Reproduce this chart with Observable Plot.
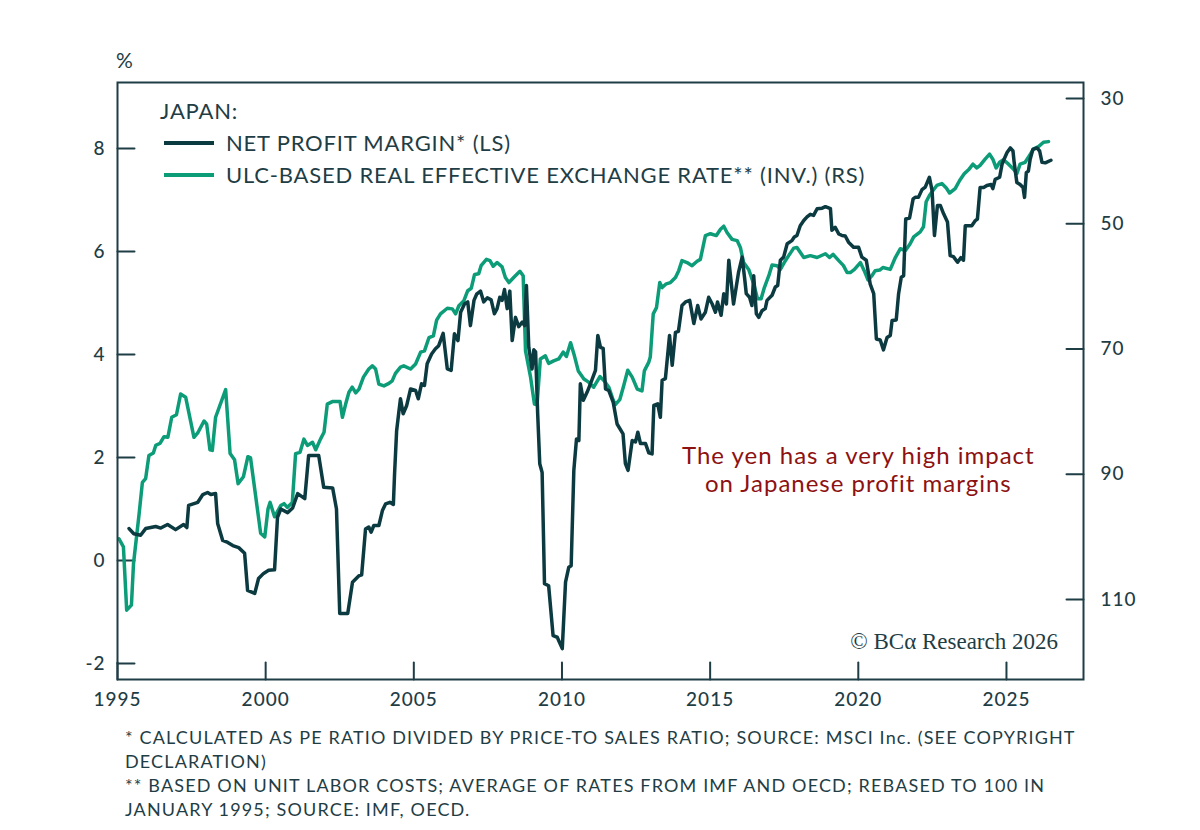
<!DOCTYPE html>
<html>
<head>
<meta charset="utf-8">
<script src="https://cdn.jsdelivr.net/npm/d3@7"></script>
<script src="https://cdn.jsdelivr.net/npm/@observablehq/plot@0.6"></script>
<style>
  html, body { margin: 0; padding: 0; background: #ffffff; }
  #wrap { position: relative; width: 1200px; height: 830px; font-family: Lato, "Open Sans", sans-serif; color: #1f3d45; }
  #pct { position: absolute; left: 116px; top: 47px; font-size: 21px; }
  #legend { position: absolute; left: 160px; top: 95px; font-size: 22px; line-height: 32px; letter-spacing: 0.8px; }
  #legend .row { display: flex; align-items: center; }
  #legend .sw { display: inline-block; width: 50px; height: 4px; margin: 0 12px 0 4px; }
  #copy { position: absolute; right: 142px; top: 629px; font-family: "Liberation Serif", "DejaVu Serif", serif; font-size: 23px; color: #1f3d45; }
  #notes { position: absolute; left: 125px; top: 725px; font-size: 18px; line-height: 24px; letter-spacing: 1.15px; }
</style>
</head>
<body>
<div id="wrap">
  <div id="chart"></div>
  <div id="pct">%</div>
  <div id="legend"></div>
  <div id="copy"></div>
  <div id="notes"></div>
</div>
<script>
// ---- data ----
const marginYears = [1995.39,1995.55,1995.78,1995.95,1996.12,1996.29,1996.46,1996.69,1996.96,1997.23,1997.34,1997.40,1997.71,1997.88,1998.04,1998.15,1998.31,1998.38,1998.55,1998.72,1998.89,1999.09,1999.29,1999.39,1999.63,1999.76,1999.93,2000.10,2000.30,2000.40,2000.51,2000.74,2000.91,2001.08,2001.32,2001.45,2001.79,2001.96,2002.26,2002.39,2002.50,2002.77,2002.93,2003.14,2003.24,2003.37,2003.48,2003.56,2003.65,2003.82,2003.94,2004.05,2004.19,2004.31,2004.35,2004.42,2004.50,2004.55,2004.64,2004.76,2004.89,2005.06,2005.15,2005.26,2005.36,2005.45,2005.60,2005.73,2005.84,2005.99,2006.13,2006.26,2006.37,2006.49,2006.58,2006.71,2006.82,2006.91,2007.03,2007.12,2007.25,2007.36,2007.48,2007.61,2007.72,2007.81,2007.90,2007.98,2008.06,2008.15,2008.24,2008.32,2008.43,2008.54,2008.66,2008.74,2008.80,2008.88,2008.99,2009.05,2009.11,2009.18,2009.25,2009.33,2009.41,2009.55,2009.70,2009.84,2010.01,2010.12,2010.23,2010.31,2010.40,2010.49,2010.57,2010.62,2010.72,2010.85,2010.96,2011.13,2011.21,2011.30,2011.39,2011.47,2011.58,2011.73,2011.86,2012.06,2012.14,2012.23,2012.37,2012.48,2012.56,2012.65,2012.82,2012.93,2013.04,2013.10,2013.23,2013.32,2013.38,2013.49,2013.63,2013.72,2013.83,2013.93,2014.05,2014.17,2014.31,2014.45,2014.58,2014.69,2014.84,2014.95,2015.07,2015.18,2015.25,2015.37,2015.46,2015.55,2015.63,2015.79,2015.96,2016.08,2016.16,2016.22,2016.33,2016.41,2016.47,2016.56,2016.64,2016.75,2016.86,2016.92,2017.09,2017.20,2017.28,2017.37,2017.48,2017.60,2017.76,2017.84,2017.93,2018.04,2018.16,2018.27,2018.38,2018.49,2018.61,2018.78,2018.89,2019.06,2019.11,2019.22,2019.34,2019.45,2019.56,2019.67,2019.84,2020.01,2020.12,2020.27,2020.40,2020.52,2020.61,2020.74,2020.85,2020.97,2021.08,2021.14,2021.28,2021.36,2021.45,2021.53,2021.60,2021.73,2021.85,2021.92,2022.03,2022.15,2022.26,2022.40,2022.49,2022.57,2022.67,2022.77,2022.88,2023.01,2023.10,2023.21,2023.35,2023.46,2023.55,2023.61,2023.83,2023.95,2024.02,2024.11,2024.23,2024.34,2024.48,2024.54,2024.62,2024.77,2024.85,2024.92,2025.02,2025.13,2025.22,2025.26,2025.35,2025.46,2025.56,2025.61,2025.67,2025.74,2025.80,2025.89,2026.03,2026.12,2026.20,2026.31,2026.50];
const marginValues = [0.62,0.52,0.49,0.62,0.64,0.66,0.63,0.70,0.60,0.70,0.64,1.07,1.13,1.28,1.32,1.28,1.30,0.72,0.39,0.35,0.29,0.25,0.14,-0.58,-0.64,-0.35,-0.25,-0.19,-0.18,0.84,1.00,0.93,1.02,1.30,1.20,2.04,2.04,1.42,1.41,1.00,-1.03,-1.03,-0.42,-0.30,-0.28,0.61,0.65,0.55,0.68,0.68,0.97,1.10,1.13,1.09,1.68,2.52,2.91,3.14,2.85,3.01,3.33,3.30,3.14,3.43,3.40,3.82,4.01,4.11,4.17,4.41,3.72,3.69,4.40,4.27,4.82,4.98,5.02,4.56,5.05,5.17,5.23,5.02,5.10,5.06,4.79,4.89,5.11,5.05,5.26,4.89,5.23,4.27,4.72,4.54,4.63,4.56,5.34,4.14,3.72,4.09,4.05,2.85,1.88,1.71,-0.45,-0.49,-1.46,-1.49,-1.71,-0.42,-0.13,-0.10,1.75,2.36,2.33,3.43,3.11,3.27,3.43,3.69,4.37,4.14,4.12,3.33,3.30,3.07,2.65,2.46,1.88,1.75,2.33,2.30,2.49,2.27,2.27,2.09,2.07,3.01,3.04,2.78,3.50,3.53,4.37,3.79,4.43,4.45,4.95,5.02,5.05,4.60,4.95,4.69,4.82,5.11,4.98,4.82,5.02,4.76,5.18,4.98,5.83,4.98,5.60,5.89,5.50,5.18,5.11,4.95,5.53,4.79,4.72,4.85,4.89,5.05,5.15,5.31,5.34,5.83,5.89,6.15,6.21,6.28,6.31,6.50,6.60,6.67,6.72,6.70,6.83,6.84,6.87,6.83,6.41,6.47,6.34,6.31,6.30,6.18,6.08,6.08,5.89,5.83,5.37,5.18,4.30,4.28,4.09,4.33,4.37,4.66,4.67,5.18,5.50,5.53,6.63,6.65,7.02,7.05,7.05,7.20,7.25,7.44,7.18,6.31,6.89,6.89,6.73,6.57,5.92,5.90,5.79,5.88,5.83,6.50,6.50,6.60,6.63,7.24,7.24,7.28,7.30,7.22,7.40,7.44,7.69,7.79,7.92,8.01,7.95,7.73,7.34,7.30,7.24,7.05,7.53,7.56,7.79,7.98,8.01,7.95,7.73,7.72,7.77];

const reerYears = [1995.05,1995.20,1995.31,1995.47,1995.54,1995.73,1995.84,1995.95,1996.06,1996.21,1996.29,1996.44,1996.57,1996.70,1996.83,1996.99,1997.13,1997.30,1997.58,1997.72,1997.92,1998.01,1998.12,1998.20,1998.31,1998.65,1998.80,1998.95,1999.07,1999.25,1999.40,1999.49,1999.83,1999.97,2000.08,2000.15,2000.30,2000.51,2000.62,2000.73,2000.90,2001.01,2001.16,2001.29,2001.41,2001.58,2001.69,2001.85,2001.97,2002.08,2002.25,2002.36,2002.51,2002.59,2002.70,2002.81,2002.92,2003.04,2003.15,2003.30,2003.48,2003.60,2003.71,2003.82,2003.99,2004.16,2004.27,2004.38,2004.55,2004.66,2004.89,2005.06,2005.23,2005.36,2005.51,2005.66,2005.77,2005.90,2006.13,2006.30,2006.41,2006.52,2006.69,2006.82,2006.94,2007.05,2007.19,2007.27,2007.45,2007.57,2007.68,2007.81,2007.98,2008.09,2008.21,2008.37,2008.58,2008.69,2008.77,2008.94,2009.07,2009.16,2009.27,2009.44,2009.55,2009.72,2009.89,2010.04,2010.15,2010.29,2010.42,2010.55,2010.74,2010.90,2011.07,2011.28,2011.43,2011.58,2011.73,2011.80,2011.95,2012.08,2012.22,2012.37,2012.54,2012.70,2012.78,2012.93,2012.98,2013.08,2013.19,2013.30,2013.38,2013.52,2013.66,2013.83,2013.94,2014.05,2014.22,2014.39,2014.56,2014.67,2014.84,2015.01,2015.21,2015.35,2015.46,2015.57,2015.74,2015.91,2016.02,2016.13,2016.30,2016.47,2016.60,2016.72,2016.83,2016.98,2017.09,2017.26,2017.37,2017.50,2017.65,2017.82,2017.93,2018.16,2018.38,2018.61,2018.89,2019.03,2019.15,2019.34,2019.50,2019.62,2019.73,2019.87,2020.07,2020.20,2020.33,2020.46,2020.57,2020.72,2020.83,2021.08,2021.25,2021.42,2021.59,2021.75,2021.87,2022.09,2022.20,2022.29,2022.40,2022.52,2022.65,2022.82,2022.97,2023.08,2023.27,2023.42,2023.58,2023.72,2023.87,2024.00,2024.11,2024.28,2024.43,2024.54,2024.65,2024.77,2024.90,2025.07,2025.24,2025.35,2025.46,2025.63,2025.78,2025.91,2026.08,2026.25,2026.42];
const reerValues = [100.3,101.6,111.7,110.9,104.3,96.3,91.3,90.7,87.0,86.6,85.4,85.05,84.0,84.1,80.9,80.5,77.2,77.7,84.1,83.3,81.5,82.0,86.1,86.2,80.9,76.5,86.7,87.7,91.5,90.4,87.2,87.4,99.4,100.0,95.5,94.5,96.8,95.0,94.7,95.3,94.5,86.7,86.5,84.4,85.4,84.9,86.1,84.4,83.3,78.8,78.4,78.4,78.4,80.9,78.8,76.9,76.1,77.0,76.4,74.5,73.2,72.7,73.2,75.6,75.9,75.5,75.1,73.9,72.9,72.7,73.2,72.4,70.5,70.3,68.2,67.9,65.4,64.4,63.5,63.6,64.4,63.1,62.3,60.7,60.3,58.1,58.0,56.7,55.7,55.9,56.8,56.2,56.9,58.6,59.4,58.6,57.6,58.3,70.3,74.5,78.8,78.9,71.6,71.1,72.3,71.9,71.6,70.5,71.2,69.0,71.1,73.5,74.8,75.3,76.1,74.4,75.1,76.1,78.2,78.9,78.1,75.9,73.4,74.5,76.4,76.7,73.5,72.1,71.3,64.4,63.4,59.4,60.2,59.6,59.4,58.6,57.5,55.9,56.2,56.7,56.0,55.7,51.9,51.6,51.9,50.9,50.4,51.4,52.5,52.7,53.8,56.2,57.3,59.6,62.0,62.0,60.2,58.3,56.6,56.7,57.3,56.2,55.1,53.9,53.8,55.4,55.1,55.4,54.8,55.4,54.9,55.9,56.7,57.8,57.8,57.3,56.2,57.5,59.0,58.3,57.5,57.4,57.0,57.3,55.4,54.0,54.3,53.2,52.1,51.3,50.5,46.5,45.5,44.7,43.9,43.6,44.3,45.1,44.4,43.1,42.0,41.4,40.5,41.1,40.7,39.7,38.9,39.7,41.1,40.2,39.8,40.5,41.3,42.0,40.5,40.2,39.1,38.1,37.7,37.0,36.9];

const leftTicks = [-2, 0, 2, 4, 6, 8];
const rightTicks = [30, 50, 70, 90, 110];
const yearTicks = [1995, 2000, 2005, 2010, 2015, 2020, 2025];

const legendTitle = "JAPAN:";
const seriesNames = ["NET PROFIT MARGIN* (LS)", "ULC-BASED REAL EFFECTIVE EXCHANGE RATE** (INV.) (RS)"];
const annotationText = "The yen has a very high impact\non Japanese profit margins";
const copyrightText = "© BCα Research 2026";
const footnotes = [
  "* CALCULATED AS PE RATIO DIVIDED BY PRICE-TO SALES RATIO; SOURCE: MSCI Inc. (SEE COPYRIGHT",
  "DECLARATION)",
  "** BASED ON UNIT LABOR COSTS; AVERAGE OF RATES FROM IMF AND OECD; REBASED TO 100 IN",
  "JANUARY 1995; SOURCE: IMF, OECD."
];

// ---- styling ----
const DARK = "#0c3a41";
const GREEN = "#0c9c78";
const INK = "#1f3d45";
const RED = "#8e1111";

// Right (inverted) axis aligned with left axis: REER 30 <-> 8.971, REER 110 <-> -0.757
const rightAlign = { r0: 30, r1: 110, l0: 8.971, l1: -0.757 };
const toLeft = r => rightAlign.l0 + (r - rightAlign.r0) * (rightAlign.l1 - rightAlign.l0) / (rightAlign.r1 - rightAlign.r0);
const fromLeft = l => rightAlign.r0 + (l - rightAlign.l0) * (rightAlign.r1 - rightAlign.r0) / (rightAlign.l1 - rightAlign.l0);

const margin = marginYears.map((x, i) => ({ x, y: marginValues[i] }));
const reer = reerYears.map((x, i) => ({ x, y: toLeft(reerValues[i]) }));

const tickShape = { draw(context, l) { context.moveTo(0, 0); context.lineTo(0, -l); } };
const TICK = 17;
const axisFont = { fontSize: 19, fontWeight: 500, fill: INK, letterSpacing: "1px" };

const chart = Plot.plot({
  width: 1200,
  height: 720,
  marginTop: 82,
  marginBottom: 41,
  marginLeft: 117,
  marginRight: 117,
  style: { fontFamily: "Lato, 'Open Sans', sans-serif", fontSize: "19px", color: INK, background: "white", overflow: "visible", letterSpacing: "1px" },
  x: { domain: [1995, 2027.6] },
  y: { domain: [-2.31, 9.28] },
  marks: [
    Plot.axisX({ ticks: yearTicks, tickSize: 0, tickPadding: 13, tickFormat: d => String(d), label: null, fontSize: 19, fontWeight: 500, fill: INK }),
    Plot.axisY({ ticks: leftTicks, anchor: "left", tickSize: 0, tickPadding: 12, tickFormat: d => String(d), label: null, fontSize: 19, fontWeight: 500, fill: INK }),
    Plot.axisY({ ticks: rightTicks.map(toLeft), anchor: "right", tickSize: 0, tickPadding: 17, tickFormat: d => String(Math.round(fromLeft(d))), label: null, fontSize: 19, fontWeight: 500, fill: INK }),
    Plot.vector(leftTicks, { y: d => d, frameAnchor: "left", rotate: 90, length: TICK, anchor: "start", shape: tickShape, stroke: INK, strokeWidth: 2 }),
    Plot.vector(rightTicks, { y: d => toLeft(d), frameAnchor: "right", rotate: -90, length: TICK, anchor: "start", shape: tickShape, stroke: INK, strokeWidth: 2 }),
    Plot.vector(yearTicks, { x: d => d, frameAnchor: "bottom", rotate: 0, length: TICK, anchor: "start", shape: tickShape, stroke: INK, strokeWidth: 2 }),
    Plot.line(reer, { x: "x", y: "y", stroke: GREEN, strokeWidth: 3.5, strokeLinejoin: "round" }),
    Plot.line(margin, { x: "x", y: "y", stroke: DARK, strokeWidth: 3.5, strokeLinejoin: "round" }),
    Plot.text([annotationText], { x: 2020.0, y: 1.77, text: d => d, fill: RED, fontSize: 24, lineHeight: 1.17, textAnchor: "middle", fontFamily: "Lato, 'Open Sans', sans-serif" }),
    Plot.frame({ stroke: INK, strokeWidth: 2 })
  ]
});
document.getElementById("chart").appendChild(chart);

// legend
const lg = document.getElementById("legend");
const t = document.createElement("div"); t.textContent = legendTitle; lg.appendChild(t);
[DARK, GREEN].forEach((c, i) => {
  const row = document.createElement("div"); row.className = "row";
  const sw = document.createElement("span"); sw.className = "sw"; sw.style.background = c;
  const tx = document.createElement("span"); tx.textContent = seriesNames[i];
  row.appendChild(sw); row.appendChild(tx); lg.appendChild(row);
});
document.getElementById("copy").textContent = copyrightText;
const nt = document.getElementById("notes");
footnotes.forEach(s => { const d = document.createElement("div"); d.textContent = s; nt.appendChild(d); });
</script>
</body>
</html>
